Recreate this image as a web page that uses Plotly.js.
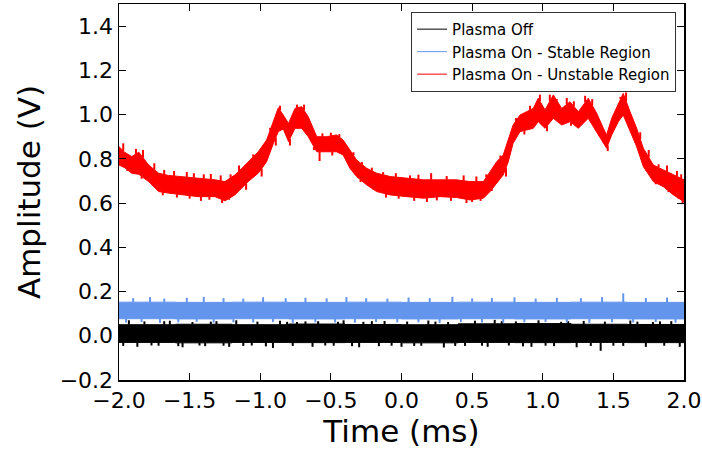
<!DOCTYPE html>
<html>
<head>
<meta charset="utf-8">
<script src="https://cdn.plot.ly/plotly-3.0.1.min.js"></script>
<style>
html,body{margin:0;padding:0;background:#fff;}
#chart{width:702px;height:452px;}
</style>
</head>
<body>
<div id="chart"></div>
<script>
// ---- Data ----
// Plasma Off (black): noise band edges (step-wise) and noise spikes
var offBandT   = [-2.0, -1.6, -1.2, -0.8, -0.4, 0.0, 0.4, 0.8, 1.2, 1.6, 2.0];
var offTop     = [0.050, 0.052, 0.050, 0.053, 0.051, 0.050, 0.054, 0.055, 0.052, 0.051, 0.051];
var offBottom  = [-0.030, -0.032, -0.030, -0.031, -0.030, -0.032, -0.030, -0.031, -0.030, -0.031, -0.031];
var offSpikeT  = [-1.97, -1.93, -1.87, -1.82, -1.77, -1.72, -1.68, -1.64, -1.58, -1.55, -1.48, -1.43, -1.39, -1.35, -1.31, -1.26, -1.22, -1.17, -1.12, -1.06, -1.02, -0.96, -0.91, -0.86, -0.81, -0.77, -0.74, -0.68, -0.63, -0.59, -0.54, -0.48, -0.45, -0.41, -0.35, -0.30, -0.27, -0.21, -0.16, -0.12, -0.07, 0.00, 0.04, 0.09, 0.14, 0.19, 0.24, 0.30, 0.33, 0.38, 0.45, 0.52, 0.57, 0.61, 0.66, 0.71, 0.76, 0.81, 0.86, 0.92, 0.97, 1.02, 1.08, 1.13, 1.18, 1.24, 1.29, 1.34, 1.41, 1.44, 1.50, 1.57, 1.62, 1.67, 1.73, 1.78, 1.83, 1.86, 1.91, 1.97];
var offSpikeV  = [-0.046, 0.070, -0.050, 0.065, -0.044, -0.045, 0.066, 0.068, -0.047, -0.052, 0.062, -0.044, -0.047, 0.064, 0.066, -0.045, -0.050, 0.070, -0.046, -0.044, 0.064, -0.048, -0.055, 0.068, 0.063, -0.046, 0.062, 0.065, -0.050, 0.066, -0.044, -0.045, 0.063, 0.070, -0.047, -0.052, 0.063, 0.066, -0.047, 0.067, -0.045, -0.050, 0.064, -0.046, -0.045, 0.069, 0.064, -0.053, 0.062, -0.046, -0.046, 0.068, -0.045, -0.050, 0.072, 0.066, -0.044, 0.065, -0.048, -0.050, 0.070, -0.045, -0.047, 0.063, 0.066, -0.052, 0.067, -0.046, -0.068, 0.064, -0.045, -0.046, 0.069, 0.064, -0.050, 0.062, 0.065, -0.045, 0.066, -0.050];

// Plasma On - Stable Region (blue)
var stbBandT   = [-2.0, -1.6, -1.2, -0.8, -0.4, 0.0, 0.4, 0.8, 1.2, 1.6, 2.0];
var stbTop     = [0.152, 0.151, 0.152, 0.151, 0.152, 0.151, 0.152, 0.151, 0.152, 0.151, 0.151];
var stbBottom  = [0.077, 0.076, 0.077, 0.076, 0.077, 0.076, 0.077, 0.076, 0.077, 0.076, 0.076];
var stbSpikeT  = [-1.95, -1.90, -1.84, -1.78, -1.71, -1.68, -1.58, -1.52, -1.45, -1.40, -1.33, -1.26, -1.19, -1.12, -1.05, -0.98, -0.91, -0.82, -0.77, -0.68, -0.61, -0.53, -0.47, -0.39, -0.33, -0.25, -0.18, -0.10, -0.03, 0.05, 0.12, 0.20, 0.27, 0.36, 0.42, 0.50, 0.57, 0.64, 0.72, 0.80, 0.87, 0.95, 1.02, 1.10, 1.17, 1.27, 1.33, 1.42, 1.49, 1.57, 1.64, 1.73, 1.80, 1.88, 1.94];
var stbSpikeV  = [0.060, 0.170, 0.062, 0.175, 0.058, 0.168, 0.061, 0.172, 0.063, 0.176, 0.059, 0.170, 0.061, 0.168, 0.060, 0.174, 0.062, 0.170, 0.058, 0.172, 0.061, 0.169, 0.060, 0.175, 0.059, 0.170, 0.062, 0.168, 0.060, 0.173, 0.061, 0.170, 0.058, 0.176, 0.062, 0.169, 0.060, 0.171, 0.059, 0.174, 0.061, 0.168, 0.062, 0.172, 0.060, 0.170, 0.058, 0.175, 0.061, 0.192, 0.060, 0.171, 0.062, 0.173, 0.059];

// Plasma On - Unstable Region (red): upper / lower edges of the noise band
var unsT = [-2.00, -1.96, -1.91, -1.86, -1.79, -1.72, -1.65, -1.56, -1.44, -1.32, -1.25, -1.18, -1.13, -1.085, -1.014, -0.955, -0.907, -0.872, -0.837, -0.80, -0.754, -0.707, -0.66, -0.636, -0.60, -0.53, -0.46, -0.413, -0.365, -0.318, -0.246, -0.176, -0.08, 0.037, 0.155, 0.273, 0.39, 0.485, 0.58, 0.627, 0.674, 0.72, 0.756, 0.79, 0.839, 0.886, 0.933, 0.968, 1.016, 1.075, 1.134, 1.193, 1.252, 1.322, 1.382, 1.429, 1.452, 1.488, 1.535, 1.57, 1.618, 1.665, 1.712, 1.783, 1.854, 1.925, 2.00];
var unsTop = [0.855, 0.830, 0.810, 0.830, 0.772, 0.735, 0.725, 0.720, 0.712, 0.705, 0.697, 0.727, 0.757, 0.787, 0.832, 0.885, 0.968, 1.031, 0.998, 0.960, 1.028, 1.036, 0.990, 0.953, 0.900, 0.900, 0.908, 0.885, 0.840, 0.795, 0.757, 0.735, 0.720, 0.712, 0.705, 0.705, 0.705, 0.697, 0.697, 0.742, 0.787, 0.817, 0.893, 0.953, 0.998, 1.013, 1.028, 1.074, 1.021, 1.089, 1.028, 1.058, 1.013, 1.074, 1.006, 0.938, 0.908, 0.983, 1.051, 1.096, 1.013, 0.938, 0.848, 0.772, 0.750, 0.727, 0.705];
var unsBottom = [0.772, 0.760, 0.735, 0.730, 0.697, 0.652, 0.645, 0.637, 0.629, 0.629, 0.610, 0.637, 0.667, 0.697, 0.735, 0.787, 0.870, 0.923, 0.935, 0.878, 0.938, 0.938, 0.900, 0.870, 0.832, 0.832, 0.832, 0.817, 0.757, 0.720, 0.682, 0.652, 0.637, 0.629, 0.622, 0.629, 0.625, 0.614, 0.622, 0.652, 0.690, 0.727, 0.787, 0.870, 0.923, 0.930, 0.938, 0.968, 0.938, 0.983, 0.953, 0.968, 0.938, 0.983, 0.923, 0.870, 0.848, 0.908, 0.968, 0.998, 0.923, 0.855, 0.765, 0.697, 0.674, 0.637, 0.606];
var unsSpikeUpT = [-1.97, -1.88, -1.83, -1.75, -1.68, -1.61, -1.52, -1.47, -1.40, -1.35, -1.28, -1.21, -1.15, -1.05, -0.98, -0.93, -0.86, -0.74, -0.69, -0.56, -0.50, -0.44, -0.34, -0.28, -0.21, -0.13, -0.04, 0.06, 0.12, 0.21, 0.32, 0.44, 0.53, 0.60, 0.70, 0.81, 0.91, 0.98, 1.05, 1.10, 1.17, 1.22, 1.30, 1.35, 1.55, 1.59, 1.69, 1.75, 1.82, 1.88, 1.95, 1.98];
var unsSpikeUpV = [0.870, 0.845, 0.840, 0.780, 0.750, 0.745, 0.740, 0.735, 0.730, 0.732, 0.725, 0.730, 0.770, 0.820, 0.860, 0.940, 1.040, 1.045, 1.045, 0.915, 0.918, 0.912, 0.830, 0.785, 0.760, 0.740, 0.735, 0.725, 0.728, 0.735, 0.722, 0.725, 0.720, 0.730, 0.815, 0.985, 1.040, 1.090, 1.090, 1.070, 1.075, 1.060, 1.085, 1.070, 1.080, 1.100, 0.920, 0.840, 0.775, 0.770, 0.745, 0.730];
var unsSpikeDnT = [-1.94, -1.84, -1.76, -1.69, -1.59, -1.50, -1.42, -1.36, -1.27, -1.22, -1.10, -0.99, -0.89, -0.79, -0.62, -0.58, -0.49, -0.38, -0.29, -0.20, -0.11, -0.02, 0.09, 0.18, 0.25, 0.35, 0.46, 0.50, 0.56, 0.64, 0.74, 0.87, 1.03, 1.20, 1.40, 1.46, 1.63, 1.73, 1.80, 1.89, 1.96, 1.99];
var unsSpikeDnV = [0.745, 0.710, 0.680, 0.635, 0.625, 0.620, 0.610, 0.615, 0.600, 0.615, 0.660, 0.720, 0.860, 0.860, 0.840, 0.790, 0.815, 0.775, 0.695, 0.660, 0.625, 0.620, 0.610, 0.605, 0.612, 0.610, 0.600, 0.605, 0.610, 0.655, 0.720, 0.910, 0.925, 0.950, 0.910, 0.835, 0.905, 0.745, 0.685, 0.650, 0.620, 0.595];

var xTicks = [-2.0, -1.5, -1.0, -0.5, 0.0, 0.5, 1.0, 1.5, 2.0];
var yTicks = [-0.2, 0.0, 0.2, 0.4, 0.6, 0.8, 1.0, 1.2, 1.4];

var names = ['Plasma Off', 'Plasma On - Stable Region', 'Plasma On - Unstable Region'];
var colors = ['#000000', '#6495ED', '#FF0000'];

// ---- Helpers building traces from the arrays ----
function stepAt(bt, bv, t) { var b = bv[0]; for (var j = 0; j < bt.length; j++) { if (bt[j] <= t) b = bv[j]; } return b; }
function linAt(bt, bv, t) {
  for (var j = 0; j < bt.length - 1; j++) {
    if (t >= bt[j] && t <= bt[j + 1]) { var f = (t - bt[j]) / (bt[j + 1] - bt[j]); return bv[j] + f * (bv[j + 1] - bv[j]); }
  }
  return bv[bv.length - 1];
}
// vertical noise spikes anchored on the band edge (top edge for upward spikes, bottom edge for downward)
function spikes(ts, vs, bt, top, bottom, at, color) {
  var x = [], y = [];
  for (var i = 0; i < ts.length; i++) {
    var hi = at(bt, top, ts[i]), lo = at(bt, bottom, ts[i]);
    var b = vs[i] >= hi ? hi : lo;
    x.push(ts[i], ts[i], null);
    y.push(b, vs[i], null);
  }
  return {x: x, y: y, type: 'scatter', mode: 'lines', showlegend: false, hoverinfo: 'skip',
          line: {color: color, width: 2}};
}
function band(t, lo, hi, shape, name, color) {
  return [
    {x: t, y: lo, type: 'scatter', mode: 'lines', name: name, showlegend: true,
     line: {color: color, width: 1, shape: shape}},
    {x: t, y: hi, type: 'scatter', mode: 'lines', showlegend: false, fill: 'tonexty',
     fillcolor: color, line: {color: color, width: 1, shape: shape}}
  ];
}

var traces = [];
traces = traces.concat(band(offBandT, offBottom, offTop, 'hv', names[0], colors[0]));
traces.push(spikes(offSpikeT, offSpikeV, offBandT, offTop, offBottom, stepAt, colors[0]));
traces = traces.concat(band(stbBandT, stbBottom, stbTop, 'hv', names[1], colors[1]));
traces.push(spikes(stbSpikeT, stbSpikeV, stbBandT, stbTop, stbBottom, stepAt, colors[1]));
traces = traces.concat(band(unsT, unsBottom, unsTop, 'linear', names[2], colors[2]));
traces.push(spikes(unsSpikeUpT, unsSpikeUpV, unsT, unsTop, unsBottom, linAt, colors[2]));
traces.push(spikes(unsSpikeDnT, unsSpikeDnV, unsT, unsTop, unsBottom, linAt, colors[2]));

function fmt(v) { return (v < 0 ? '\u2212' : '') + Math.abs(v).toFixed(1); }
var tickFont = {family: 'DejaVu Sans', size: 22, color: '#000'};
var titleFont = {family: 'DejaVu Sans', size: 31, color: '#000'};
var layout = {
  width: 702, height: 452,
  margin: {l: 119, r: 18, t: 4, b: 72},
  paper_bgcolor: '#fff', plot_bgcolor: '#fff',
  font: {family: 'DejaVu Sans', color: '#000'},
  showlegend: true,
  xaxis: {
    range: [-2, 2], tickvals: xTicks, ticktext: xTicks.map(fmt),
    ticks: 'inside', ticklen: 7, tickwidth: 1, tickcolor: '#000',
    showline: true, linecolor: '#000', linewidth: 1.5, mirror: 'ticks',
    showgrid: false, zeroline: false, tickfont: tickFont,
    title: {text: 'Time (ms)', font: titleFont, standoff: 8}
  },
  yaxis: {
    range: [-0.2, 1.5], tickvals: yTicks, ticktext: yTicks.map(fmt),
    ticks: 'inside', ticklen: 7, tickwidth: 1, tickcolor: '#000',
    showline: true, linecolor: '#000', linewidth: 1.5, mirror: 'ticks',
    showgrid: false, zeroline: false, tickfont: tickFont,
    title: {text: 'Amplitude (V)', font: titleFont, standoff: 10}
  },
  legend: {
    x: 0.986, xanchor: 'right', y: 0.979, yanchor: 'top',
    bgcolor: '#fff', bordercolor: '#333', borderwidth: 1,
    font: {family: 'DejaVu Sans', size: 15, color: '#000'},
    itemwidth: 30, tracegroupgap: 0, traceorder: 'normal'
  }
};

Plotly.newPlot('chart', traces, layout, {displayModeBar: false, staticPlot: true});
</script>
</body>
</html>
